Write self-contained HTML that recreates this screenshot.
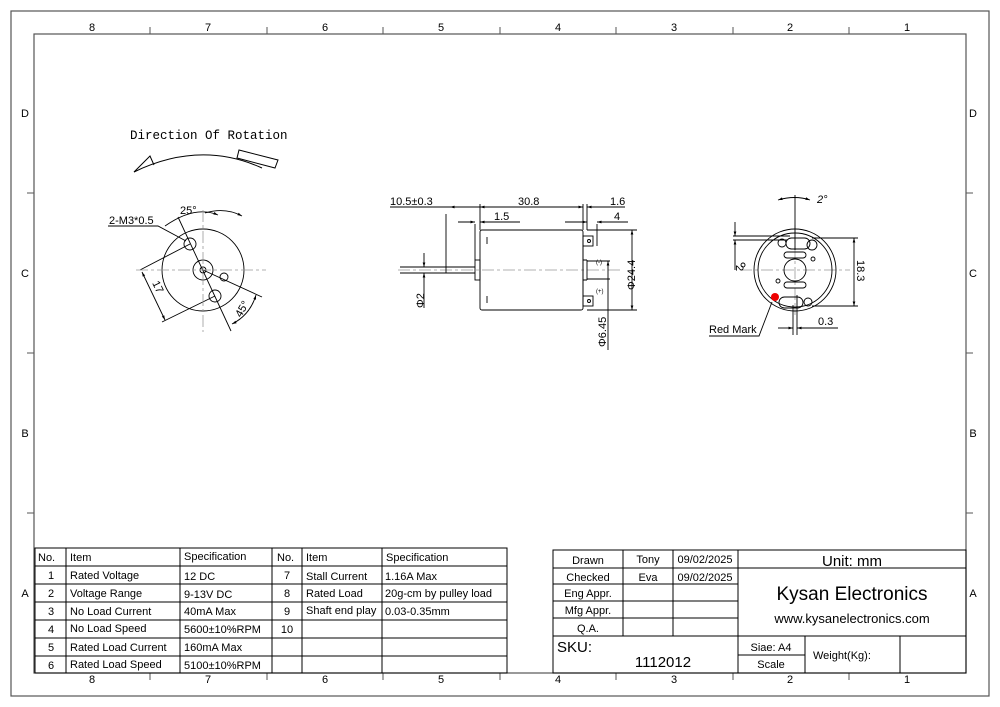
<!DOCTYPE html>
<html><head><meta charset="utf-8"><style>
html,body{margin:0;padding:0;background:#fff}
svg{display:block}
text{font-family:"Liberation Sans",sans-serif;fill:#000}
</style></head><body>
<svg width="1000" height="707" viewBox="0 0 1000 707" xmlns="http://www.w3.org/2000/svg">
<defs><marker id="a" viewBox="0 0 10 10" refX="10" refY="5" markerWidth="7" markerHeight="5" orient="auto-start-reverse"><path d="M0,2 L10,5 L0,8 z" fill="#000"/></marker></defs>
<rect x="11" y="11" width="978" height="685" fill="none" stroke="#555" stroke-width="1.2"/>
<rect x="34" y="34" width="932" height="639" fill="none" stroke="#555" stroke-width="1.2"/>
<g stroke="#555" stroke-width="1">
<path d="M150,27V34M267,27V34M383,27V34M500,27V34M616,27V34M733,27V34M849,27V34"/>
<path d="M150,673V680M267,673V680M383,673V680M500,673V680M616,673V680M733,673V680M849,673V680"/>
<path d="M27,193H34M27,353H34M27,513H34M966,193H973M966,353H973M966,513H973"/>
</g>
<g font-size="11" text-anchor="middle">
<text x="92" y="31">8</text><text x="208" y="31">7</text><text x="325" y="31">6</text><text x="441" y="31">5</text><text x="558" y="31">4</text><text x="674" y="31">3</text><text x="790" y="31">2</text><text x="907" y="31">1</text>
<text x="92" y="683">8</text><text x="208" y="683">7</text><text x="325" y="683">6</text><text x="441" y="683">5</text><text x="558" y="683">4</text><text x="674" y="683">3</text><text x="790" y="683">2</text><text x="907" y="683">1</text>
<text x="25" y="117">D</text><text x="25" y="277">C</text><text x="25" y="437">B</text><text x="25" y="597">A</text>
<text x="973" y="117">D</text><text x="973" y="277">C</text><text x="973" y="437">B</text><text x="973" y="597">A</text>
</g>

<!-- Left drawing -->
<text x="130" y="139" style="font-family:'Liberation Mono',monospace" font-size="12.5">Direction Of Rotation</text>
<g fill="none" stroke="#000" stroke-width="1">
<path d="M134,172 Q200,140 262,168"/>
<path d="M134,172 L150,156 L154,165"/>
<path d="M237,158 L239,150 L278,160 L275,168 Z"/>
</g>
<g fill="none" stroke="#000" stroke-width="0.9">
<circle cx="203" cy="270" r="41"/>
<circle cx="203" cy="270" r="10"/>
<circle cx="203" cy="270" r="3"/>
<circle cx="190" cy="244" r="6"/>
<circle cx="215" cy="296" r="6"/>
<circle cx="224" cy="277" r="4"/>
<path d="M178,217 L231,331"/>
<path d="M203,270 L262,297"/>
<path d="M140,270 L190,244 M162,322 L215,296"/>
<path d="M142,272 L165,320" marker-start="url(#a)" marker-end="url(#a)"/>
<path d="M165,226 Q195,205 218,215" marker-end="url(#a)"/>
<path d="M218,215 Q212,207 232,213 " stroke="none"/>
<path d="M205,213 Q225,207 242,216" marker-end="url(#a)"/>
<path d="M256,295 Q250,315 232,324" marker-start="url(#a)" marker-end="url(#a)"/>
<path d="M108,226 H158 L186,241"/>
</g>
<g stroke="#999" stroke-width="0.8" stroke-dasharray="12,3,3,3" fill="none">
<path d="M136,270 H266"/><path d="M203,210 V332"/>
</g>
<text x="109" y="224" font-size="11">2-M3*0.5</text>
<text x="180" y="214" font-size="11">25°</text>
<text x="0" y="0" font-size="11" transform="translate(152,283) rotate(64)">17</text>
<text x="0" y="0" font-size="11" transform="translate(241,318) rotate(-60)">45°</text>

<!-- Middle drawing -->
<g stroke="#999" stroke-width="0.8" stroke-dasharray="12,3,3,3"><path d="M398,270 H622"/></g>
<g fill="none" stroke="#000" stroke-width="0.9">
<rect x="480" y="230" width="103" height="80" rx="2"/>
<rect x="475" y="260" width="5" height="20"/>
<path d="M423,267 H475 M423,273 H475 M446,267 V273"/>
<path d="M583,237 V303 M587,260 V280 M583,260 H587 M583,280 H587"/>
<rect x="583" y="236" width="10" height="10"/><circle cx="589" cy="241" r="1.5"/>
<rect x="583" y="296" width="10" height="10"/><circle cx="589" cy="301" r="1.5"/>
<path d="M487,237 V244 M487,296 V303"/>
<path d="M446,214 V267 M480,204 V230 M475,224 V260 M583,204 V230 M587,204 V230 M597,224 V246"/>
<path d="M390,207 H446 M446,207 H480" />
<path d="M450,207 H480" marker-start="url(#a)"/>
<path d="M480,207 H583" marker-start="url(#a)" marker-end="url(#a)"/>
<path d="M587,207 H625" marker-start="url(#a)"/>
<path d="M458,222 H475" marker-end="url(#a)"/><path d="M480,222 H520" marker-start="url(#a)"/>
<path d="M565,222 H587" marker-end="url(#a)"/><path d="M597,222 H628" marker-start="url(#a)"/>
<path d="M587,230 H637 M587,310 H637"/>
<path d="M632,230 V310" marker-start="url(#a)" marker-end="url(#a)"/>
<path d="M587,261 H610 M587,279 H610"/>
<path d="M608,261 V350" marker-start="url(#a)"/>
<path d="M423,267 H400 M423,273 H400"/>
<path d="M424,253 V267" marker-end="url(#a)"/><path d="M424,273 V308" marker-start="url(#a)"/>
</g>
<g font-size="11">
<text x="390" y="205">10.5±0.3</text>
<text x="518" y="205">30.8</text>
<text x="610" y="205">1.6</text>
<text x="494" y="220">1.5</text>
<text x="614" y="220">4</text>
<text x="0" y="0" transform="translate(635,290) rotate(-90)">Φ24.4</text>
<text x="0" y="0" transform="translate(606,347) rotate(-90)">Φ6.45</text>
<text x="0" y="0" transform="translate(424,308) rotate(-90)">Φ2</text>
<text x="596" y="264" font-size="6">(-)</text>
<text x="596" y="293" font-size="6">(+)</text>
</g>

<!-- Right drawing -->
<g stroke="#999" stroke-width="0.8" stroke-dasharray="12,3,3,3"><path d="M740,270 H850"/><path d="M795,225 V315"/></g>
<g fill="none" stroke="#000" stroke-width="0.9">
<circle cx="795" cy="270" r="41"/><circle cx="795" cy="270" r="37"/>
<circle cx="795" cy="270" r="11"/>
<rect x="784" y="252" width="22" height="6" rx="3"/><rect x="784" y="282" width="22" height="6" rx="3"/>
<rect x="786" y="238" width="24" height="11" rx="5.5"/><circle cx="782" cy="243" r="4"/><circle cx="812" cy="245" r="5"/>
<rect x="779" y="297" width="24" height="11" rx="5.5"/><circle cx="808" cy="302" r="4"/>
<circle cx="813" cy="259" r="2"/><circle cx="778" cy="281" r="2"/><circle cx="743" cy="265" r="2"/>
<path d="M795,195 V250 M797,295 V335 M793,305 V335"/>
<path d="M778,200 Q795,195 810,200" marker-start="url(#a)" marker-end="url(#a)"/>
<path d="M733,236 H790 M733,240 H787"/>
<path d="M735,222 V236" marker-end="url(#a)"/><path d="M735,240 V270" marker-start="url(#a)"/>
<path d="M812,238 H858 M812,306 H858"/>
<path d="M854,238 V306" marker-start="url(#a)" marker-end="url(#a)"/>
<path d="M778,328 H793" marker-end="url(#a)"/><path d="M797,328 H838" marker-start="url(#a)"/>
<path d="M709,336 H759 L772,302"/>
</g>
<circle cx="775" cy="297" r="4" fill="#e00"/>
<g font-size="11">
<text x="817" y="203" font-style="italic">2°</text>
<text x="0" y="0" transform="translate(736,265) rotate(90)">2</text>
<text x="0" y="0" transform="translate(857,260) rotate(90)">18.3</text>
<text x="818" y="325">0.3</text>
<text x="709" y="333">Red Mark</text>
</g>

<!-- Left table -->
<g fill="none" stroke="#000" stroke-width="1">
<rect x="35" y="548" width="472" height="125"/>
<path d="M66,548V673M180,548V673M272,548V673M302,548V673M382,548V673"/>
<path d="M35,566H507M35,584H507M35,602H507M35,620H507M35,638H507M35,656H507"/>
</g>
<g font-size="11">
<text x="38" y="561">No.</text><text x="70" y="561">Item</text><text x="184" y="560">Specification</text>
<text x="277" y="561">No.</text><text x="306" y="561">Item</text><text x="386" y="561">Specification</text>
<g text-anchor="middle"><text x="51" y="579">1</text><text x="51" y="597">2</text><text x="51" y="615">3</text><text x="51" y="633">4</text><text x="51" y="651">5</text><text x="51" y="669">6</text>
<text x="287" y="579">7</text><text x="287" y="597">8</text><text x="287" y="615">9</text><text x="287" y="633">10</text></g>
<text x="70" y="579">Rated Voltage</text><text x="70" y="597">Voltage Range</text><text x="70" y="615">No Load Current</text><text x="70" y="632">No Load Speed</text><text x="70" y="651">Rated Load Current</text><text x="70" y="668">Rated Load Speed</text>
<text x="184" y="580">12 DC</text><text x="184" y="598">9-13V DC</text><text x="184" y="615">40mA Max</text><text x="184" y="633">5600±10%RPM</text><text x="184" y="651">160mA Max</text><text x="184" y="669">5100±10%RPM</text>
<text x="306" y="580">Stall Current</text><text x="306" y="597">Rated Load</text><text x="306" y="614">Shaft end play</text>
<text x="385" y="580">1.16A Max</text><text x="385" y="597">20g-cm by pulley load</text><text x="385" y="615">0.03-0.35mm</text>
</g>

<!-- Right title block -->
<g fill="none" stroke="#000" stroke-width="1">
<rect x="553" y="550" width="413" height="123"/>
<path d="M623,550V636M673,550V636M738,550V673M805,636V673M900,636V673"/>
<path d="M553,568H966M553,584H738M553,601H738M553,618H738M553,636H966M738,655H805"/>
</g>
<g font-size="11" text-anchor="middle">
<text x="588" y="564">Drawn</text><text x="648" y="563">Tony</text><text x="705" y="563">09/02/2025</text>
<text x="588" y="581">Checked</text><text x="648" y="581">Eva</text><text x="705" y="581">09/02/2025</text>
<text x="588" y="597">Eng Appr.</text><text x="588" y="614">Mfg Appr.</text><text x="588" y="632">Q.A.</text>
<text x="852" y="566" font-size="15">Unit: mm</text>
<text x="852" y="600" font-size="19">Kysan Electronics</text>
<text x="852" y="623" font-size="13">www.kysanelectronics.com</text>
<text x="771" y="651">Siae: A4</text><text x="771" y="668">Scale</text>
<text x="663" y="667" font-size="15">1112012</text>
</g>
<text x="557" y="652" font-size="15">SKU:</text>
<text x="813" y="659" font-size="11">Weight(Kg):</text>
</svg>
</body></html>
